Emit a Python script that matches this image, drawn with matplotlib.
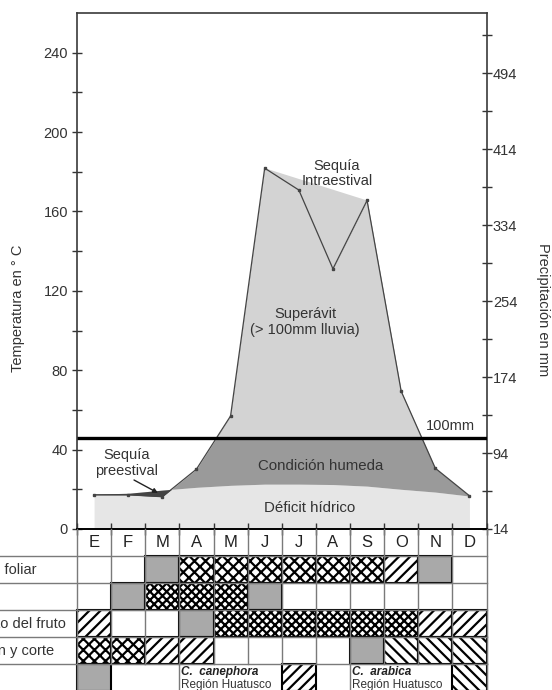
import matplotlib.pyplot as plt
from matplotlib.patches import Rectangle
from matplotlib.ticker import FixedLocator, NullFormatter
from matplotlib import font_manager
import numpy as np

plt.rcParams['font.family'] = ['Liberation Sans', 'DejaVu Sans']
plt.rcParams['hatch.linewidth'] = 1.6

# fuente angosta para las notas de la tabla (si existe)
try:
    font_manager.findfont('Liberation Sans Narrow', fallback_to_default=False)
    angosta = ['Liberation Sans Narrow', 'DejaVu Sans']
except Exception:
    angosta = ['Liberation Sans', 'DejaVu Sans']

# datos
meses = ['E', 'F', 'M', 'A', 'M', 'J', 'J', 'A', 'S', 'O', 'N', 'D']
temperatura = [17.6, 18.0, 19.6, 21.0, 22.0, 22.6, 22.6, 22.4, 21.6, 20.0, 18.6, 16.6]
precipitacion = [50, 50, 48, 77, 133, 394, 371, 288, 360, 159, 78, 49]
umbral = 110

# etiquetas de fila (en la imagen solo se ve el final de algunas)
fases = ['Crecimiento foliar', '', 'Crecimiento del fruto', 'Maduración y corte', '']
# g = gris, x = cuadriculado, d = cuadriculado denso, / y \ = rayado
calendario = [
    ['', '', 'g', 'x', 'x', 'x', 'x', 'x', 'x', '/', 'g', ''],
    ['', 'g', 'd', 'd', 'd', 'g', '', '', '', '', '', ''],
    ['/', '', '', 'g', 'd', 'd', 'd', 'd', 'd', 'd', '/', '/'],
    ['x', 'x', '/', '/', '', '', '', '', 'g', '\\', '\\', '\\'],
    ['g', '', '', '', '', '', '/', '', '', '', '', '\\'],
]


def a_mm(t):
    return 14 + 2.09 * np.asarray(t, dtype=float)


def a_t(p):
    return (np.asarray(p, dtype=float) - 14) / 2.09


def px(xp, yp):
    # pixel de la figura -> coordenadas del eje principal
    return (xp - 77) / 34.12, (529 - yp) / 1.985


fig = plt.figure(figsize=(5.52, 6.9), dpi=100)
ax = fig.add_axes([77 / 552, 1 - 529 / 690, 409.5 / 552, 516 / 690])

x = np.arange(12) + 0.5
T = np.array(temperatura)
P = a_t(precipitacion)
thr = a_t(umbral)

ax.fill_between(x, 0, T, color='#e6e6e6', lw=0)
ax.fill_between(x, T, P, where=P > T, interpolate=True, color='#9a9a9a', lw=0)
ax.fill_between(x, thr, P, where=P > thr, interpolate=True, color='#d3d3d3', lw=0)
ax.fill(x[5:9], P[5:9], color='#d3d3d3', lw=0)
ax.fill_between(x, P, T, where=P < T, interpolate=True, color='#444444', lw=0)
ax.plot(x, P, color='#444444', lw=0.9, marker='s', ms=1.8)
ax.axhline(thr, color='black', lw=2.4)

tc = '#333333'
ax.text(*px(450, 426), '100mm', ha='center', va='center', fontsize=10.5, color=tc)
ax.text(*px(337, 173), 'Sequía\nIntraestival', ha='center', va='center',
        fontsize=10.5, color=tc, linespacing=1.1)
ax.text(*px(305, 322), 'Superávit\n(> 100mm lluvia)', ha='center', va='center',
        fontsize=10.5, color=tc, linespacing=1.1)
ax.text(*px(321, 466), 'Condición humeda', ha='center', va='center', fontsize=10.8, color=tc)
ax.text(*px(310, 508), 'Déficit hídrico', ha='center', va='center', fontsize=10.8, color=tc)
ax.text(*px(127, 463), 'Sequía\npreestival', ha='center', va='center',
        fontsize=10.5, color=tc, linespacing=1.1)
ax.annotate('', xy=px(158, 493), xytext=px(134, 480),
            arrowprops=dict(arrowstyle='-|>', color='#222222', lw=1, mutation_scale=7,
                            shrinkA=0, shrinkB=0))

ax.set_xlim(0, 12)
ax.set_ylim(0, 260)
ax.set_xticks(range(13))
ax.xaxis.set_major_formatter(NullFormatter())
ax.set_yticks(range(0, 241, 40))
ax.yaxis.set_minor_locator(FixedLocator(range(20, 260, 40)))
ax.tick_params(axis='x', direction='inout', length=8, width=1, color='#333333')
ax.tick_params(axis='y', which='both', direction='inout', length=7, width=1, color='#333333',
               labelsize=10.5, labelcolor=tc, pad=3)
for lado in ['left', 'top', 'bottom']:
    ax.spines[lado].set_color('#3a3a3a')
    ax.spines[lado].set_linewidth(1.2)
ax.spines['bottom'].set_color('black')
ax.spines['bottom'].set_linewidth(1.4)
ax.spines['right'].set_visible(False)

sec = ax.secondary_yaxis('right', functions=(a_mm, a_t))
sec.set_yticks(range(14, 500, 80))
sec.yaxis.set_minor_locator(FixedLocator(range(54, 560, 80)))
sec.tick_params(which='both', direction='inout', length=7, width=1, color='#333333',
                labelsize=10.5, labelcolor=tc, pad=1)
sec.spines['right'].set_color('#3a3a3a')
sec.spines['right'].set_linewidth(1.2)

fig.text(18 / 552, 1 - 308 / 690, 'Temperatura en ° C', rotation=90, ha='center', va='center',
         fontsize=10.5, color=tc)
fig.text(543 / 552, 1 - 310 / 690, 'Precipitación en mm', rotation=270, ha='center', va='center',
         fontsize=10.5, color=tc)

# tabla de fenología
tab = fig.add_axes([77 / 552, 0, 409.5 / 552, 161 / 690])
tab.set_xlim(0, 12)
tab.set_ylim(161 / 27, 0)
tab.axis('off')

gris = '#7a7a7a'
for k in range(13):
    tab.plot([k, k], [0, 5], color=gris, lw=1, clip_on=False)
for k in [0, 3, 8, 12]:
    tab.plot([k, k], [5, 6.2], color=gris, lw=1, clip_on=False)
for r in range(1, 6):
    tab.plot([-2.5, 12], [r, r], color=gris, lw=1, clip_on=False)

for i, m in enumerate(meses):
    tab.text(i + 0.5, 0.5, m, ha='center', va='center', fontsize=12, color='#222222')

estilos = {'g': ('#a9a9a9', None), 'x': ('white', 'xxx'), 'd': ('white', 'xxxx'),
           '/': ('white', '///'), '\\': ('white', '\\\\\\')}
for r, fila in enumerate(calendario):
    for m, c in enumerate(fila):
        if not c:
            continue
        fc, h = estilos[c]
        tab.add_patch(Rectangle((m, r + 1), 1, 1, facecolor=fc, hatch=h, edgecolor='black',
                                lw=1.5, clip_on=False))

fin_etiqueta = [36, 0, 66, 54, 0]
for r, (fase, fx) in enumerate(zip(fases, fin_etiqueta)):
    if fase:
        fig.text(fx / 552, 1 - (529 + 27 * (r + 1.5)) / 690, fase, ha='right', va='center',
                 fontsize=10.5, color=tc)

for xc, especie in [(3.05, 'canephora'), (8.05, 'arabica')]:
    tab.text(xc, 5.3, 'C.  ' + especie, ha='left', va='center', fontsize=8.5, style='italic',
             weight='bold', color='#222222', family=angosta)
    tab.text(xc, 5.78, 'Región Huatusco', ha='left', va='center', fontsize=8.5,
             color='#333333', family=angosta)

fig.savefig('out.png', dpi=100)
